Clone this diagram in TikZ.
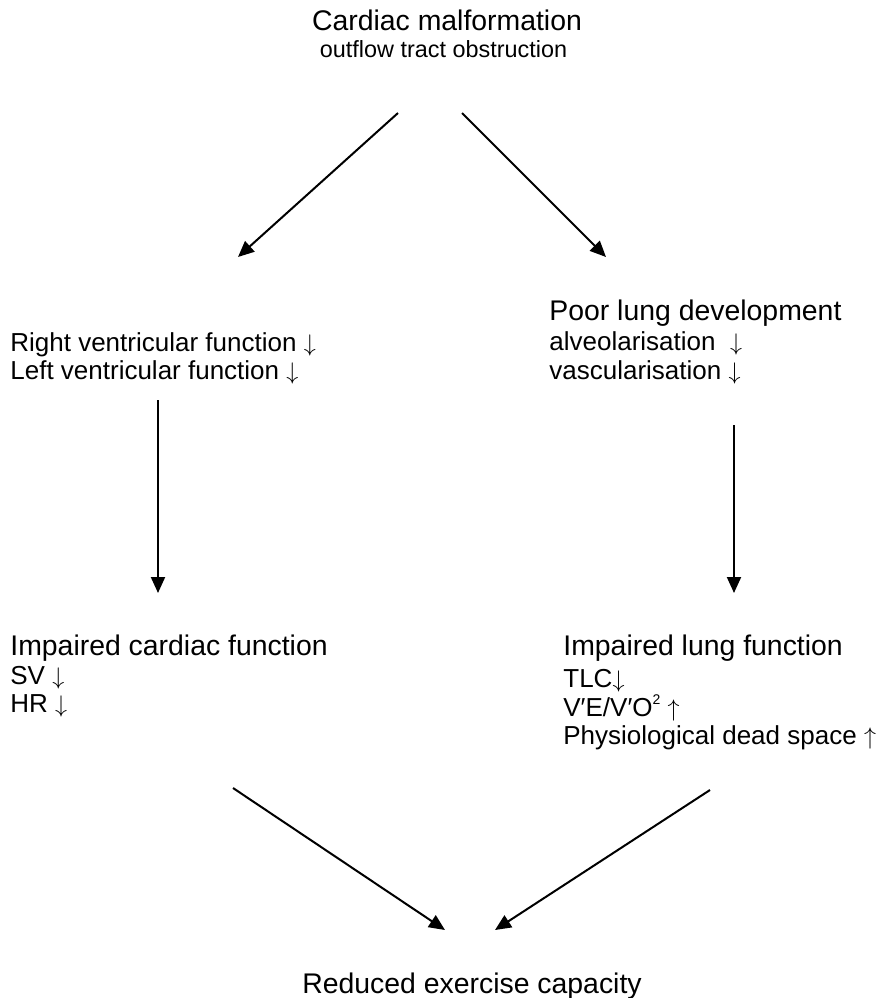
\documentclass[tikz,border=0pt]{standalone}
\usepackage{fontspec}
\setmainfont{Liberation Sans}
\usetikzlibrary{arrows.meta}
\newcommand{\dn}{$\downarrow$}
\newcommand{\upp}{$\uparrow$}
\tikzset{
	head/.style={font=\fontsize{14.2}{17}\selectfont, inner sep=0pt, anchor=base west},
	item/.style={font=\fontsize{13}{15}\selectfont, inner sep=0pt, anchor=base west},
	arr/.style={line width=1pt, -{Triangle[length=8pt,width=7pt]}}
}
\begin{document}
\begin{tikzpicture}[x=0.5pt,y=-0.5pt]
	\useasboundingbox (0,0) rectangle (889,998);
	\node[head,anchor=base] (malf) at (447,30) {Cardiac malformation};
	\node[item,anchor=base,font=\fontsize{11.7}{14}\selectfont] (outflow) at (443.5,57) {outflow tract obstruction};
	% heart side
	\node[item] (rvf) at (10,351) {Right ventricular function \dn};
	\node[item] (lvf) at (10,379) {Left ventricular function \dn};
	\node[head] (cardiac) at (10,655) {Impaired cardiac function};
	\node[item] (sv) at (10,684) {SV \dn};
	\node[item] (hr) at (10,712) {HR \dn};
	% lung side
	\node[head] (lungdev) at (549,320) {Poor lung development};
	\node[item] (alveol) at (549,350) {alveolarisation \ \dn};
	\node[item] (vascul) at (549,379) {vascularisation \dn};
	\node[head] (lung) at (563,655) {Impaired lung function};
	\node[item] (tlc) at (563,687) {TLC\dn};
	\node[item] (vevo) at (563,716) {V′E/V′O\raisebox{0.45em}{\scriptsize 2} \upp};
	\node[item] (dead) at (563,744) {Physiological dead space \upp};
	\node[head,anchor=base] (exercise) at (472,993) {Reduced exercise capacity};

	\coordinate (a1) at (398,113);
	\coordinate (a2) at (462,113);
	\coordinate (b1) at (238,257);
	\coordinate (b2) at (606,257);
	\coordinate (c1) at (158,400);
	\coordinate (c2) at (734,425);
	\coordinate (d1) at (158,593);
	\coordinate (d2) at (734,593);
	\coordinate (e1) at (233,788);
	\coordinate (e2) at (710,790);
	\coordinate (f1) at (445,930);
	\coordinate (f2) at (495,930);
	\draw[arr] (a1) -- (b1);
	\draw[arr] (a2) -- (b2);
	\draw[arr] (c1) -- (d1);
	\draw[arr] (c2) -- (d2);
	\draw[arr] (e1) -- (f1);
	\draw[arr] (e2) -- (f2);
\end{tikzpicture}
\end{document}
